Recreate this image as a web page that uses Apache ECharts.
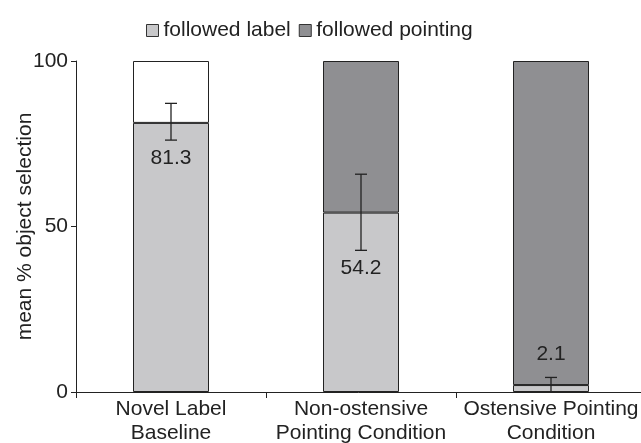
<!DOCTYPE html>
<html>
<head>
<meta charset="utf-8">
<script src="https://cdn.jsdelivr.net/npm/echarts@6/dist/echarts.min.js"></script>
<style>
  html, body { margin: 0; padding: 0; background: #fff; }
  #chart { width: 641px; height: 443px; }
</style>
</head>
<body>
<div id="chart"></div>
<script>
// Conditions on the x axis
const categories = ['Novel Label\nBaseline', 'Non-ostensive\nPointing Condition', 'Ostensive Pointing\nCondition'];
// Mean % of choices that followed the label
const followedLabel = [81.3, 54.2, 2.1];
// Remainder of each bar (the baseline has no pointing cue, drawn blank)
const followedPointing = [18.7, 45.8, 97.9];
// Error bar ends for the label series
const errLow = [76.1, 42.8, 0];
const errHigh = [87.2, 65.8, 4.4];
// Y tick values
const yTicks = [0, 50, 100];

const LIGHT = '#c8c8ca';
const DARK = '#8f8f92';
const INK = '#222';
const FONT = '"Liberation Sans", Arial, sans-serif';
const FS = 21;

const chart = echarts.init(document.getElementById('chart'), null, { renderer: 'canvas' });

const errData = categories.map((c, i) => [i, errLow[i], errHigh[i], followedLabel[i]]);

chart.setOption({
  animation: false,
  textStyle: { fontFamily: FONT, color: INK },
  legend: {
    top: 15,
    left: 141,
    itemWidth: 12,
    itemHeight: 12,
    itemGap: 8,
    icon: 'rect',
    textStyle: { fontSize: FS, color: INK, fontFamily: FONT },
    data: [
      { name: 'followed label', itemStyle: { color: LIGHT, borderColor: '#333', borderWidth: 1 } },
      { name: 'followed pointing', itemStyle: { color: DARK, borderColor: '#333', borderWidth: 1 } }
    ]
  },
  grid: { left: 76, top: 61, right: -5, bottom: 51, containLabel: false, outerBoundsMode: 'none' },
  xAxis: {
    type: 'category',
    data: categories,
    axisLine: { lineStyle: { color: INK, width: 1 } },
    axisTick: { show: true, length: 6, lineStyle: { color: INK } },
    axisLabel: { fontSize: FS, color: INK, fontFamily: FONT, margin: 5, lineHeight: 24, interval: 0 }
  },
  yAxis: {
    type: 'value',
    min: yTicks[0],
    max: yTicks[yTicks.length - 1],
    interval: yTicks[1] - yTicks[0],
    name: 'mean % object selection',
    nameLocation: 'middle',
    nameGap: 40,
    nameMoveOverlap: false,
    nameTextStyle: { fontSize: FS, color: INK, fontFamily: FONT },
    splitLine: { show: false },
    axisLine: { show: true, lineStyle: { color: INK, width: 1 } },
    axisTick: { show: true, length: 5, lineStyle: { color: INK } },
    axisLabel: { fontSize: FS, color: INK, fontFamily: FONT, margin: 8 }
  },
  series: [
    {
      name: 'followed label',
      type: 'bar',
      stack: 'total',
      barWidth: 76,
      data: followedLabel,
      itemStyle: { color: LIGHT, borderColor: INK, borderWidth: 1 }
    },
    {
      name: 'followed pointing',
      type: 'bar',
      stack: 'total',
      barWidth: 76,
      data: followedPointing.map((v, i) => i === 0
        ? { value: v, itemStyle: { color: '#fff' } }
        : v),
      itemStyle: { color: DARK, borderColor: INK, borderWidth: 1 }
    },
    {
      name: 'error',
      type: 'custom',
      z: 10,
      data: errData,
      renderItem: function (params, api) {
        const x = api.coord([api.value(0), 0])[0];
        const lo = api.coord([api.value(0), api.value(1)])[1];
        const hi = api.coord([api.value(0), api.value(2)])[1];
        const zero = api.coord([api.value(0), 0])[1];
        const cap = 6;
        const style = { stroke: INK, lineWidth: 1.3 };
        const children = [
          { type: 'line', shape: { x1: x, y1: hi, x2: x, y2: lo }, style: style },
          { type: 'line', shape: { x1: x - cap, y1: hi, x2: x + cap, y2: hi }, style: style }
        ];
        if (api.value(1) > 0) {
          children.push({ type: 'line', shape: { x1: x - cap, y1: lo, x2: x + cap, y2: lo }, style: style });
        }
        // value label: below the error bar, or above it when the bar is too short
        const roomBelow = zero - lo > 40;
        children.push({
          type: 'text',
          style: {
            text: String(api.value(3)),
            x: x,
            y: roomBelow ? lo + 18 : hi - 23,
            align: 'center',
            verticalAlign: 'middle',
            fontSize: FS,
            fontFamily: FONT,
            fill: INK
          }
        });
        return { type: 'group', children: children };
      }
    }
  ]
});
</script>
</body>
</html>
